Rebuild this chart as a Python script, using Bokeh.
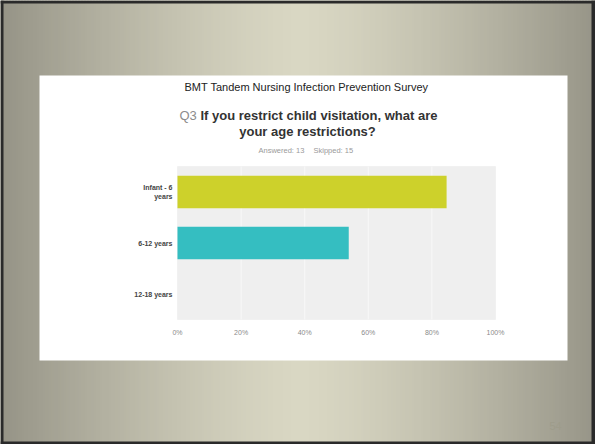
from bokeh.plotting import figure
from bokeh.models import Range1d, BoxAnnotation, Label, FixedTicker, LinearAxis
from bokeh.embed import file_html
from bokeh.resources import INLINE

# ---- data ----
categories = ["Infant - 6 years", "6-12 years", "12-18 years"]
category_labels = ["Infant - 6\nyears", "6-12 years", "12-18 years"]
percents = [84.62, 53.85, 0.0]
bar_colors = ["#cdd12b", "#35bec1", "#35bec1"]
x_ticks = [0, 20, 40, 60, 80, 100]
x_tick_labels = ["0%", "20%", "40%", "60%", "80%", "100%"]

W, H = 595, 444
FONT = "Liberation Sans"

# layout geometry (pixels): plot area inside the slide
PL, PR, PT, PB = 177, 495, 166, 319
n = len(categories)
xpx = (PR - PL) / 100.0            # pixels per percent
ypx = (PB - PT) / n                # pixels per category
y_pos = list(range(n))

x_range = Range1d(-PL / xpx, (W - PL) / xpx)
y_top = -0.5 - PT / ypx
y_bot = -0.5 + (H - PT) / ypx
y_range = Range1d(y_bot, y_top)

p = figure(width=W, height=H, output_backend="svg", toolbar_location=None,
           x_range=x_range, y_range=y_range, title_location=None,
           x_axis_location=None, y_axis_location=None,
           min_border=0, min_border_left=0, min_border_right=0,
           min_border_top=0, min_border_bottom=0)
p.border_fill_color = "#b5b3a3"
p.background_fill_color = "#b5b3a3"
p.outline_line_color = None
p.xgrid.visible = False
p.ygrid.visible = False


def lerp(c1, c2, t):
    a = [int(c1[i:i + 2], 16) for i in (1, 3, 5)]
    b = [int(c2[i:i + 2], 16) for i in (1, 3, 5)]
    return "#%02x%02x%02x" % tuple(round(a[k] + (b[k] - a[k]) * t) for k in range(3))


def sy(y):  # top-based pixel -> screen units (from bottom)
    return H - y


def sbox(l, r, t, b, color, level="image"):
    p.add_layout(BoxAnnotation(left=l, right=r, top=sy(t), bottom=sy(b),
                               left_units="screen", right_units="screen",
                               top_units="screen", bottom_units="screen",
                               fill_color=color, fill_alpha=1, line_color=None,
                               level=level))


# slide background: light centre column fading to darker sides
light, dark = "#d9d7c3", "#959386"
step = 3
for x0 in range(0, W, step):
    xc = x0 + step / 2
    t = min(1.0, abs(xc - 300) / 300.0) ** 1.35
    sbox(x0, x0 + step + 1, 0, H, lerp(light, dark, t))

# dark slide border
for (l, r, t, b) in [(0, W, 0, 3), (0, W, 441, H), (0, 3, 0, H), (591, W, 0, H)]:
    sbox(l, r, t, b, "#2a2a2a", level="underlay")

# white content box
sbox(39, 567, 75, 360, "#ffffff", level="underlay")

# plot area background (data units)
p.add_layout(BoxAnnotation(left=0, right=100, top=-0.5, bottom=n - 0.5,
                           fill_color="#efefef", fill_alpha=1,
                           line_color="#e6e6e6", line_width=1, level="underlay"))

# vertical grid lines inside the plot area
p.segment(x0=x_ticks[1:-1], x1=x_ticks[1:-1], y0=-0.5, y1=n - 0.5,
          line_color="#f8f8f8", line_width=1)

# bars
p.hbar(y=y_pos, right=percents, left=0, height=0.64,
       fill_color=bar_colors, line_color=None)

# axes placed at the plot-area edges
xaxis = LinearAxis(fixed_location=n - 0.5, ticker=FixedTicker(ticks=x_ticks),
                   major_label_overrides=dict(zip(x_ticks, x_tick_labels)))
xaxis.axis_line_color = None
xaxis.major_tick_line_color = None
xaxis.minor_tick_line_color = None
xaxis.major_tick_out = 0
xaxis.major_tick_in = 0
xaxis.major_label_text_font = FONT
xaxis.major_label_text_font_size = "7px"
xaxis.major_label_text_color = "#8a8a8a"
xaxis.major_label_standoff = 9
p.add_layout(xaxis, "below")

yaxis = LinearAxis(fixed_location=0, ticker=FixedTicker(ticks=y_pos),
                   major_label_overrides=dict(zip(y_pos, category_labels)))
yaxis.axis_line_color = None
yaxis.major_tick_line_color = None
yaxis.minor_tick_line_color = None
yaxis.major_tick_out = 0
yaxis.major_tick_in = 0
yaxis.major_label_text_font = FONT
yaxis.major_label_text_font_size = "7px"
yaxis.major_label_text_font_style = "bold"
yaxis.major_label_text_color = "#444444"
yaxis.major_label_standoff = 5
p.add_layout(yaxis, "left")


# titles
def add_label(x, y, text, size, color, style="normal", align="center"):
    p.add_layout(Label(x=x, y=sy(y), x_units="screen", y_units="screen", text=text,
                       text_font=FONT, text_font_size=size, text_color=color,
                       text_font_style=style, text_align=align,
                       text_baseline="middle"))


add_label(306, 86, "BMT Tandem Nursing Infection Prevention Survey", "11px", "#222222")
add_label(179, 115, "Q3", "13px", "#8c8c8c", align="left")
add_label(200, 115, "If you restrict child visitation, what are", "13px", "#333333",
          style="bold", align="left")
add_label(307, 131, "your age restrictions?", "13px", "#333333", style="bold")
add_label(258, 150, "Answered: 13", "7.5px", "#9a9a9a", align="left")
add_label(313, 150, "Skipped: 15", "7.5px", "#9a9a9a", align="left")
add_label(555, 425, "54", "11px", "#9e9c8b")

open("out.html", "w").write(file_html(p, INLINE))
